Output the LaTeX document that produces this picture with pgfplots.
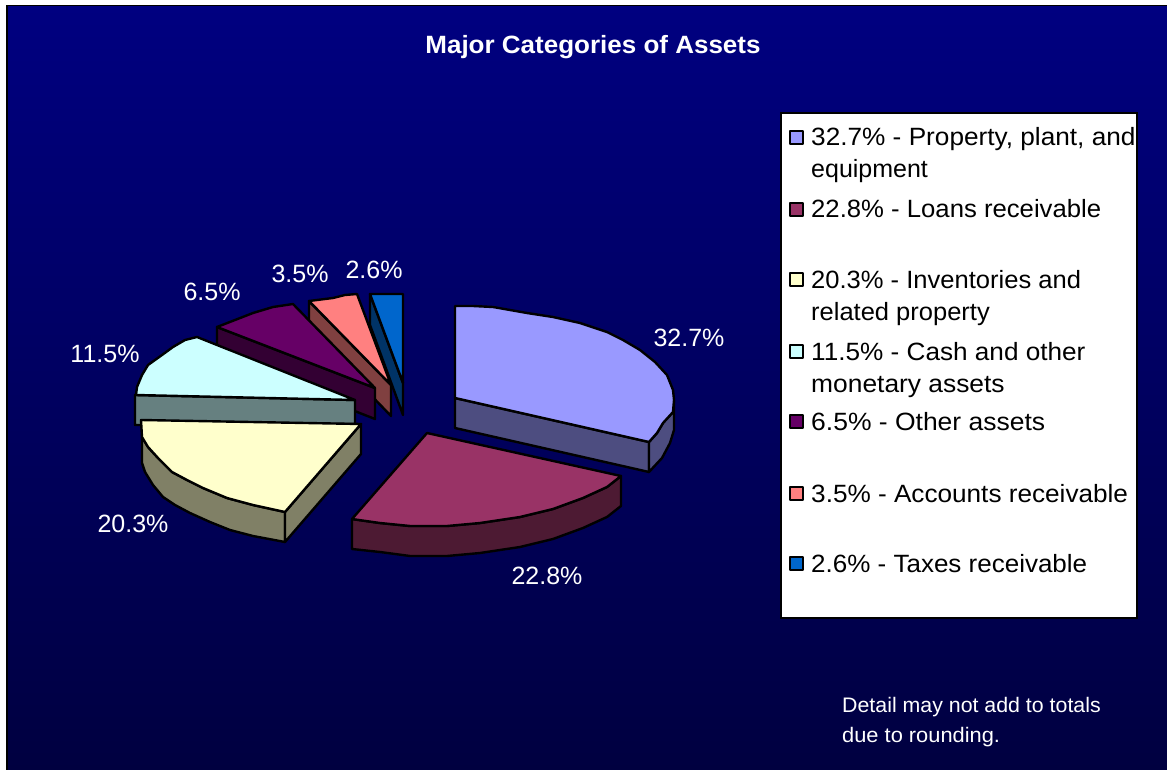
\documentclass[border=0pt]{standalone}
\usepackage{fontspec}
\setmainfont{Liberation Sans}
\usepackage{graphicx}
\usepackage{pgfplots}
\pgfplotsset{compat=1.18}
\definecolor{c1}{HTML}{9999FF}\definecolor{s1}{HTML}{4D4D80}
\definecolor{c2}{HTML}{993366}\definecolor{s2}{HTML}{4D1A33}
\definecolor{c3}{HTML}{FFFFCC}\definecolor{s3}{HTML}{808066}
\definecolor{c4}{HTML}{CCFFFF}\definecolor{s4}{HTML}{668080}
\definecolor{c5}{HTML}{660066}\definecolor{s5}{HTML}{330033}
\definecolor{c6}{HTML}{FF8080}\definecolor{s6}{HTML}{804040}
\definecolor{c7}{HTML}{0066CC}\definecolor{s7}{HTML}{003366}
\definecolor{bgtop}{HTML}{000080}\definecolor{bgbot}{HTML}{000040}
\newcommand{\lab}{\fontsize{25}{30}\selectfont}
\tikzset{legtxt/.style={black, anchor=base west, inner sep=0pt, font=\lab},
  sl/.style={draw=black, line width=2.4pt, line join=round, sharp plot}}
\begin{document}
\begin{tikzpicture}
\begin{axis}[
  hide axis, scale only axis, width=1167pt, height=770pt,
  xmin=0, xmax=1167, ymin=0, ymax=770, y dir=reverse,
  clip=true, no marks,
]
% background
\fill[white] (axis cs:0,0) rectangle (axis cs:1167,770);
\fill[black] (axis cs:6,5) rectangle (axis cs:1167,770);
\shade[top color=bgtop, bottom color=bgbot] (axis cs:8,7) rectangle (axis cs:1167,770);

% Taxes
\addplot[sl, fill=s7] coordinates {(370,294)(403,383)(403,415)(370,325)} -- cycle;
\addplot[sl, fill=c7] coordinates {(370,294)(403,294)(403,383)} -- cycle;
% Accounts
\addplot[sl, fill=s6] coordinates {(309,301)(391,385)(391,416)(309,331)} -- cycle;
\addplot[sl, fill=c6] coordinates {(309,301)(333,298)(345,295)(357,294)(391,385)} -- cycle;
% Other
\addplot[sl, fill=s5] coordinates {(217,327)(375,388)(375,419)(217,357)} -- cycle;
\addplot[sl, fill=c5] coordinates {(217,327)(235,320)(253,313)(273,307)(293,304)(375,388)} -- cycle;
% Cash
\addplot[sl, fill=s4] coordinates {(135,395)(355,400)(355,424)(135,425)} -- cycle;
\addplot[sl, fill=c4] coordinates {(355,400)(197,337)(185,340)(173,347)(162,355)(148,365)(142,375)(137,387)(136,395)} -- cycle;
% Inventories
\addplot[sl, fill=s3] coordinates {(142,437)(148,447)(158,458)(172,472)(187,480)(203,488)(227,498)(253,505)(285,512)(285,542)(253,536)(230,530)(210,522)(190,513)(175,505)(163,497)(153,485)(145,472)(142,463)} -- cycle;
\addplot[sl, fill=s3] coordinates {(285,512)(361,424)(361,454)(285,542)} -- cycle;
\addplot[sl, fill=c3] coordinates {(361,424)(141,420)(142,437)(148,447)(158,458)(172,472)(187,480)(203,488)(227,498)(253,505)(285,512)} -- cycle;
% Loans
\addplot[sl, fill=s2] coordinates {(352,519)(380,523)(410,526)(447,526)(480,523)(520,517)(553,509)(583,498)(607,487)(621,476)(621,506)(607,517)(583,528)(553,539)(520,547)(480,553)(447,556)(410,556)(380,552)(352,549)} -- cycle;
\addplot[sl, fill=c2] coordinates {(427,433)(621,476)(607,487)(583,498)(553,509)(520,517)(480,523)(447,526)(410,526)(380,523)(352,519)} -- cycle;
% Property
\addplot[sl, fill=s1] coordinates {(455,398)(649,442)(649,472)(455,428)} -- cycle;
\addplot[sl, fill=s1] coordinates {(649,442)(657,433)(663,423)(673,412)(674,400)(674,430)(670,443)(662,458)(649,472)} -- cycle;
\addplot[sl, fill=c1] coordinates {(455,398)(455,306)(473,306)(493,307)(527,313)(553,317)(580,323)(607,332)(623,340)(640,350)(655,362)(667,375)(673,390)(674,400)(673,412)(663,423)(657,433)(649,442)} -- cycle;

% title and pie labels
\node[white, anchor=center, font=\bfseries\fontsize{25}{30}\selectfont] at (axis cs:593,47) {\scalebox{1.04}[1]{Major Categories of Assets}};
\node[white, anchor=center, font=\lab] at (axis cs:689,338) {32.7\%};
\node[white, anchor=center, font=\lab] at (axis cs:547,576) {22.8\%};
\node[white, anchor=center, font=\lab] at (axis cs:133,524) {20.3\%};
\node[white, anchor=center, font=\lab] at (axis cs:105,354) {11.5\%};
\node[white, anchor=center, font=\lab] at (axis cs:212,292) {6.5\%};
\node[white, anchor=center, font=\lab] at (axis cs:300,274) {3.5\%};
\node[white, anchor=center, font=\lab] at (axis cs:374,270) {2.6\%};

% legend box
\fill[white] (axis cs:781,113) rectangle (axis cs:1137,618);
\begin{scope}
\clip (axis cs:781,113) rectangle (axis cs:1137,618);
\node[legtxt] at (axis cs:811,146) {\scalebox{1.048}[1]{32.7\% - Property, plant, and}};
\node[legtxt] at (axis cs:811,178) {equipment};
\node[legtxt] at (axis cs:811,218) {\scalebox{1.028}[1]{22.8\% - Loans receivable}};
\node[legtxt] at (axis cs:811,288) {\scalebox{1.022}[1]{20.3\% - Inventories and}};
\node[legtxt] at (axis cs:811,320) {\scalebox{1.02}[1]{related property}};
\node[legtxt] at (axis cs:811,360) {\scalebox{1.046}[1]{11.5\% - Cash and other}};
\node[legtxt] at (axis cs:811,392) {\scalebox{1.055}[1]{monetary assets}};
\node[legtxt] at (axis cs:811,430) {\scalebox{1.059}[1]{6.5\% - Other assets}};
\node[legtxt] at (axis cs:811,502) {\scalebox{1.046}[1]{3.5\% - Accounts receivable}};
\node[legtxt] at (axis cs:811,572) {\scalebox{1.04}[1]{2.6\% - Taxes receivable}};
\end{scope}
\draw[black, line width=2.4pt] (axis cs:781,113) rectangle (axis cs:1137,618);
\addplot[sl, fill=c1, line width=1.8pt] coordinates {(790,131)(803,131)(803,144)(790,144)} -- cycle;
\addplot[sl, fill=c2, line width=1.8pt] coordinates {(790,203)(803,203)(803,216)(790,216)} -- cycle;
\addplot[sl, fill=c3, line width=1.8pt] coordinates {(790,273)(803,273)(803,286)(790,286)} -- cycle;
\addplot[sl, fill=c4, line width=1.8pt] coordinates {(790,345)(803,345)(803,358)(790,358)} -- cycle;
\addplot[sl, fill=c5, line width=1.8pt] coordinates {(790,415)(803,415)(803,428)(790,428)} -- cycle;
\addplot[sl, fill=c6, line width=1.8pt] coordinates {(790,487)(803,487)(803,500)(790,500)} -- cycle;
\addplot[sl, fill=c7, line width=1.8pt] coordinates {(790,557)(803,557)(803,570)(790,570)} -- cycle;

% note
\node[white, anchor=base west, inner sep=0pt, font=\fontsize{21}{25}\selectfont] at (axis cs:842,712) {\scalebox{1.016}[1]{Detail may not add to totals}};
\node[white, anchor=base west, inner sep=0pt, font=\fontsize{21}{25}\selectfont] at (axis cs:842,742) {\scalebox{1.04}[1]{due to rounding.}};
\end{axis}
\end{tikzpicture}
\end{document}
